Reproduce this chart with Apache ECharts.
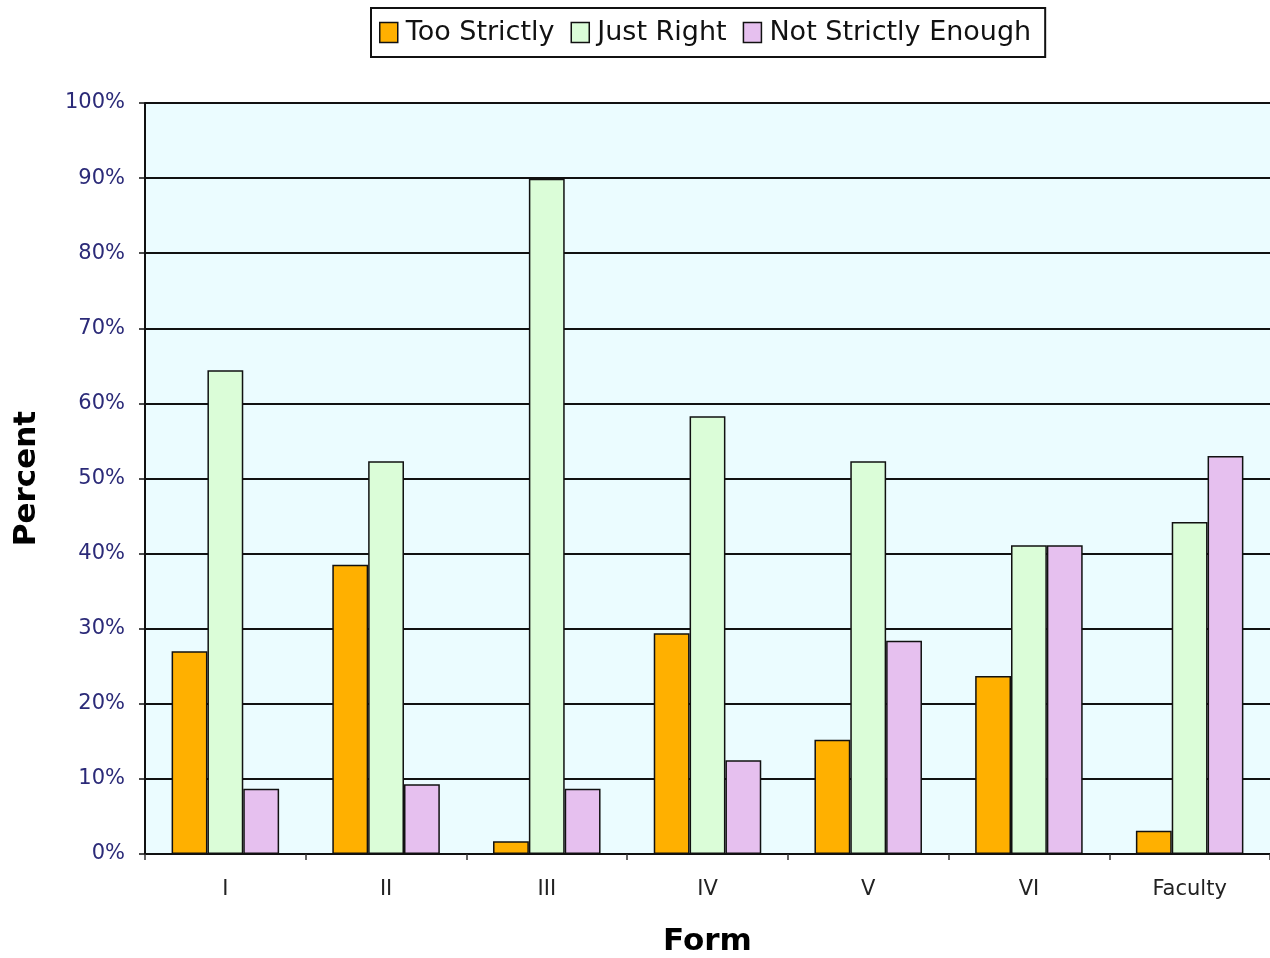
<!DOCTYPE html>
<html>
<head>
<meta charset="utf-8">
<script src="https://cdn.jsdelivr.net/npm/echarts@6/dist/echarts.min.js"></script>
<style>
  html, body { margin: 0; padding: 0; background: #fff; }
  #chart { width: 1270px; height: 958px; }
</style>
</head>
<body>
<div id="chart"></div>
<script>
// 类目和数据
const forms = ['I', 'II', 'III', 'IV', 'V', 'VI', 'Faculty']
const tooStrictly = [27.0, 38.5, 1.7, 29.4, 15.2, 23.7, 3.1]
const justRight = [64.4, 52.3, 89.9, 58.3, 52.3, 41.1, 44.2]
const notStrictlyEnough = [8.7, 9.3, 8.7, 12.5, 28.4, 41.1, 53.0]
const seriesNames = ['Too Strictly', 'Just Right', 'Not Strictly Enough']

const font = 'Verdana, "DejaVu Sans", sans-serif'
const myChart = echarts.init(document.querySelector('#chart'))

function barSeries(name, data, color) {
  return {
    name: name,
    type: 'bar',
    data: data,
    barWidth: '22.3%',
    barGap: '0%',
    itemStyle: { color: color, borderColor: '#111', borderWidth: 1.5 }
  }
}

const option = {
  animation: false,
  legend: {
    top: 8,
    left: 371,
    padding: [11, 14, 11, 8],
    itemGap: 16,
    itemWidth: 18,
    itemHeight: 20,
    borderColor: '#111',
    borderWidth: 2,
    textStyle: { fontFamily: font, fontSize: 27, color: '#111', padding: [0, 0, 0, 3] },
    data: seriesNames.map(n => ({ name: n, icon: 'rect', itemStyle: { borderColor: '#111', borderWidth: 1.5 } }))
  },
  grid: {
    left: 145, right: 0, top: 103, bottom: 104,
    containLabel: false,
    outerBoundsMode: 'none',
    show: true,
    backgroundColor: '#ebfcff',
    borderWidth: 0
  },
  xAxis: {
    type: 'category',
    data: forms,
    name: 'Form',
    nameLocation: 'middle',
    nameGap: 72,
    nameTextStyle: { fontFamily: font, fontSize: 31, fontWeight: 'bold', color: '#000' },
    axisLine: { lineStyle: { color: '#111', width: 2 } },
    axisTick: { show: true, length: 6, lineStyle: { color: '#333', width: 1.5 } },
    axisLabel: { fontFamily: font, fontSize: 21, color: '#222', margin: 25 }
  },
  yAxis: {
    type: 'value',
    min: 0, max: 100, interval: 10,
    name: 'Percent',
    nameLocation: 'middle',
    nameGap: 103,
    nameTextStyle: { fontFamily: font, fontSize: 31, fontWeight: 'bold', color: '#000' },
    axisLine: { show: true, lineStyle: { color: '#111', width: 2 } },
    axisTick: { show: true, length: 6, lineStyle: { color: '#111', width: 1.5 } },
    axisLabel: { fontFamily: font, fontSize: 21, color: '#2b2a78', margin: 20, formatter: '{value}%' },
    splitLine: { lineStyle: { color: '#111', width: 2 } }
  },
  series: [
    barSeries(seriesNames[0], tooStrictly, '#ffb000'),
    barSeries(seriesNames[1], justRight, '#dbfdd8'),
    barSeries(seriesNames[2], notStrictlyEnough, '#e6c0ef')
  ]
}

myChart.setOption(option)
</script>
</body>
</html>
